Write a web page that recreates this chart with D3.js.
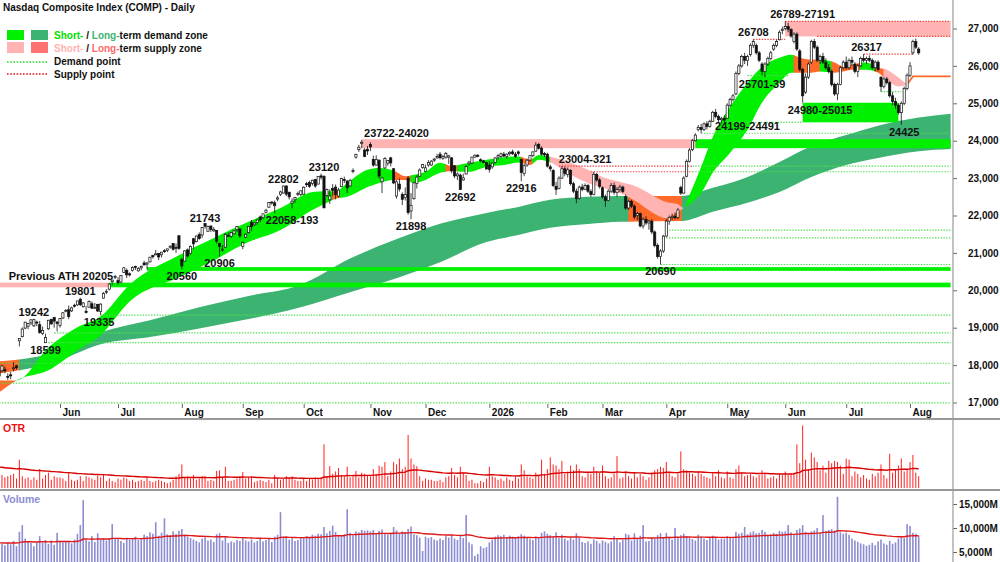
<!DOCTYPE html>
<html>
<head>
<meta charset="utf-8">
<title>Nasdaq Composite Index (COMP) - Daily</title>
<script src="https://cdn.jsdelivr.net/npm/d3@7/dist/d3.min.js"></script>
<style>
  body { margin: 0; background: #fff; }
  svg { display: block; font-family: "Liberation Sans", Arial, sans-serif; font-weight: bold; }
</style>
</head>
<body>
<svg id="chart" width="1000" height="562"></svg>
<script>
// ---- calendar ----
var START_DATE = "2025-05-01";
var holidays = ["2025-05-26", "2025-06-19", "2025-07-04", "2025-09-01", "2025-11-27", "2025-12-25",
                "2026-01-01", "2026-01-19", "2026-02-16", "2026-04-03", "2026-05-25", "2026-06-19", "2026-07-03"];
var monthLabels = ["Jun", "Jul", "Aug", "Sep", "Oct", "Nov", "Dec", "2026", "Feb", "Mar", "Apr", "May", "Jun", "Jul", "Aug"];

// ---- daily candles (May 2025 - Aug 2026) ----
var opens = [
  17850,17850,17880,17700,17740,17900,17980,18650,18760,18990,19040,19130,19050,19150,19080,18850,18600,18970,19220,19270,19150,
  19060,19260,19430,19480,19450,19600,19610,19760,19560,19440,19550,19640,19530,19620,19430,19790,19970,20030,20230,20340,
  20260,20220,20480,20530,20440,20530,20640,20520,20600,20730,20700,20760,20930,20960,20980,20950,21060,21070,21160,21250,21150,21460,
  20820,20780,21080,20980,21380,21300,21490,21480,21790,21580,21720,21590,21600,21250,21100,21150,21470,21440,21510,21620,21640,
  21170,21420,21540,21820,21750,21810,21960,21940,22080,22220,22360,22340,22440,22560,22600,22790,22620,22330,22420,22590,22560,
  22570,22850,22880,22860,22960,22840,23060,23040,22540,22420,22720,22760,22520,22770,22960,22920,22790,23180,23560,23760,23940,23750,23770,
  23900,23500,23350,23480,22900,23270,23400,23540,23250,22520,22840,22560,22480,23000,22120,22450,22860,23050,23280,
  23180,23350,23350,23480,23540,23640,23530,23560,23560,23540,23330,23060,23080,22950,23110,23380,23400,23560,23610,23490,23460,23420,
  23350,23300,23420,23560,23580,23640,23580,23650,23700,23640,23700,23500,23120,23350,23480,23600,23720,23900,23800,23660,
  23640,23300,23200,22780,22720,23000,23250,23100,23200,22850,22650,22460,22760,22700,22800,22640,22560,23100,22950,
  22740,22500,22400,22650,22800,22620,22700,22760,22500,22200,22380,22250,22000,22050,21720,21900,21800,21850,21560,21200,20900,21050,
  21450,21850,21950,21980,21950,22750,22600,23050,23450,23760,24000,24300,24350,24300,24450,24380,24520,24760,24650,24560,24600,
  24600,24950,25100,25250,25800,26000,26250,26150,26300,26550,26550,26350,26050,25850,26050,26200,26450,26550,26700,26950,
  27000,27050,26980,26650,26850,26400,25900,25300,25700,26100,26650,26500,26150,26250,26100,25950,25850,25500,25250,25500,25950,
  26100,25950,26150,26050,25850,26000,26200,26150,26200,26150,25950,26100,25700,25450,25650,25550,25200,25050,24950,24750,25000,25400,
  25750,26350,26650,26450
];
var highs = [
  17930,18010,17960,17780,17820,18080,18010,18720,19010,19160,19130,19220,19242,19190,19180,19030,18840,19210,19240,19290,19180,
  19250,19420,19500,19590,19560,19640,19720,19801,19680,19580,19730,19700,19660,19640,19650,19950,20030,20190,20280,20410,
  20350,20400,20620,20580,20480,20640,20660,20620,20660,20790,20760,20890,20950,21080,21000,21030,21100,21110,21200,21260,21250,21460,
  20870,21070,21120,21200,21400,21470,21550,21690,21743,21730,21730,21690,21610,21270,21210,21530,21550,21560,21610,21720,21660,
  21300,21520,21710,21880,21820,21890,22000,22050,22180,22360,22380,22400,22530,22660,22800,22802,22640,22460,22500,22640,22670,
  22780,22900,22930,22960,22980,23050,23120,23080,22720,22700,22840,22830,22740,23010,23040,22950,22980,23260,23650,23890,24020,23800,23860,
  23960,23600,23610,23500,23020,23560,23480,23570,23270,22950,22990,22620,22750,23050,22600,22900,23080,23260,23370,
  23360,23480,23480,23540,23650,23700,23620,23700,23620,23560,23350,23150,23120,23120,23350,23460,23570,23630,23640,23530,23490,23440,
  23450,23420,23560,23640,23680,23700,23660,23720,23760,23700,23740,23520,23380,23520,23620,23720,23960,23940,23850,23700,
  23680,23360,23240,22900,23050,23321,23310,23280,23240,22900,22720,22800,22850,22860,22850,22700,23170,23140,23000,
  22780,22560,22700,22870,22880,22760,22820,22800,22560,22420,22420,22300,22100,22080,21950,21980,21880,21900,21600,21260,21100,21480,
  21900,22000,22050,22080,22200,22800,23050,23500,23800,24050,24200,24420,24450,24491,24520,24560,24800,24850,24700,24640,24680,
  25000,25150,25250,25850,26050,26300,26350,26300,26600,26708,26600,26400,26100,26100,26250,26400,26600,26700,26950,27050,
  27191,27150,27000,26900,26900,26450,25950,25800,26100,26700,26720,26550,26300,26350,26200,26050,25900,25550,25550,26000,26150,
  26250,26200,26250,26100,26050,26250,26317,26250,26280,26200,26150,26150,25720,25700,25700,25600,25300,25150,25000,25050,25450,25800,
  26100,26700,26730,26500
];
var lows = [
  17650,17800,17780,17600,17620,17830,17880,18500,18740,18960,18960,19070,19020,19040,18840,18800,18599,18940,19080,19000,18900,
  19000,19230,19410,19230,19420,19540,19580,19580,19540,19380,19540,19500,19500,19420,19335,19780,19900,20000,20140,20300,
  20150,20200,20460,20330,20370,20500,20540,20500,20530,20670,20560,20740,20850,20950,20810,20880,21000,21020,21110,21060,21000,21080,
  20560,20770,20870,20950,21100,21280,21350,21400,21650,21560,21560,21560,21250,20906,21030,21140,21440,21400,21490,21560,21400,
  21100,21400,21520,21580,21720,21750,21820,21900,22060,22210,22290,22058,22380,22520,22590,22520,22430,22193,22340,22520,22520,
  22560,22760,22740,22800,22740,22830,22960,22200,22500,22310,22530,22430,22480,22760,22870,22600,22770,23130,23520,23700,23800,23560,23620,
  23720,23300,23330,22990,22600,23250,23330,23310,22840,22450,22640,22280,22400,22020,21898,22420,22720,23040,23250,
  23160,23300,23330,23430,23520,23500,23490,23520,23380,23130,23000,22950,22692,22930,23100,23340,23380,23550,23560,23420,23410,23240,
  23150,23250,23390,23500,23530,23560,23520,23600,23620,23540,23600,22916,23050,23300,23440,23560,23700,23760,23600,23560,
  23280,23180,22760,22550,22700,22980,23050,23020,22800,22600,22330,22420,22650,22680,22600,22500,22540,22900,22720,
  22450,22230,22380,22600,22560,22500,22620,22600,22150,22150,22200,21900,21880,21680,21650,21750,21620,21500,21150,20850,20690,21000,
  21420,21750,21880,21900,21900,22550,22580,23020,23420,23720,23980,24250,24199,24260,24300,24350,24500,24600,24480,24460,24500,
  24580,24900,25050,25220,25750,25950,26050,26000,26250,26480,26300,26100,25739,25701,26000,26150,26400,26500,26680,26850,
  26950,26900,26750,26600,26400,25850,25015,25250,25650,26050,26450,26100,26050,26050,25900,25800,25450,25200,25080,25480,25900,
  25900,25900,26000,25800,25700,25980,26100,26050,26100,25900,25850,25850,25310,25400,25500,25150,24950,24850,24700,24425,24950,25350,
  25700,26300,26450,26300
];
var closes = [
  17710,17978,17844,17690,17738,17928,17929,18708,18963,19147,19112,19211,19215,19143,18873,18926,18737,19199,19101,19175,19114,
  19243,19399,19461,19298,19530,19591,19715,19615,19662,19407,19701,19521,19546,19447,19631,19913,19974,20168,20273,20370,
  20203,20394,20601,20412,20418,20611,20631,20586,20641,20677,20730,20885,20896,20974,20892,21020,21057,21108,21179,21098,21130,21122,
  20650,21053,20916,21169,21243,21450,21385,21682,21713,21711,21623,21630,21315,21172,21100,21497,21449,21544,21590,21705,21456,
  21280,21498,21708,21700,21799,21879,21886,22043,22141,22349,22333,22261,22470,22631,22789,22573,22498,22384,22484,22591,22660,
  22755,22845,22780,22942,22789,23044,23024,22204,22695,22522,22671,22563,22680,22991,22954,22740,22942,23205,23637,23827,23958,23581,23725,
  23835,23349,23500,23054,23005,23528,23468,23406,22871,22901,22709,22433,22564,22078,22273,22872,23026,23215,23366,
  23276,23414,23454,23506,23578,23546,23576,23654,23594,23195,23057,23111,22693,23006,23307,23428,23562,23613,23593,23474,23420,23242,
  23230,23400,23540,23600,23650,23590,23640,23690,23650,23580,23660,23150,23330,23480,23600,23700,23880,23800,23640,23620,
  23320,23250,22800,22700,23000,23250,23120,23220,22850,22650,22450,22760,22700,22800,22650,22560,23100,22950,22780,
  22500,22400,22650,22800,22620,22700,22760,22640,22200,22380,22250,21960,22050,21720,21900,21800,21850,21560,21200,20900,21050,21450,
  21850,21950,21980,21940,22150,22600,23000,23450,23750,24000,24150,24350,24300,24450,24380,24520,24760,24650,24560,24600,24550,
  24950,25100,25200,25800,26000,26250,26150,26250,26550,26650,26350,26150,25850,26050,26200,26350,26550,26650,26900,26980,
  27050,26980,26800,26850,26450,25900,25200,25700,26050,26650,26500,26150,26250,26100,25950,25850,25500,25250,25500,25950,26100,
  25950,26150,26100,25850,26000,26200,26150,26200,26150,25950,26100,25900,25450,25650,25550,25200,25050,24950,24750,25000,25400,25750,
  26000,26650,26500,26350
];

// ---- OTR (%) and volume (millions of shares) ----
var otr = [
  1.3,1.1,0.9,1.0,1.1,1.2,0.8,2.4,1.0,0.8,0.9,0.7,0.9,0.7,1.6,0.8,1.1,1.3,0.7,1.0,0.9,
  0.9,0.8,0.6,1.35,0.7,0.6,0.7,1.0,0.6,1.0,0.9,0.8,0.7,1.05,0.9,1.1,0.6,0.8,0.6,0.5,
  0.8,0.7,0.9,0.8,0.6,0.7,0.5,0.6,0.7,0.6,0.9,0.6,0.5,0.6,0.7,0.6,0.5,0.4,0.5,0.7,1.0,1.2,
  2.0,0.9,1.0,0.8,1.1,0.7,0.8,1.0,1.0,0.6,0.7,0.6,1.45,1.5,0.9,1.8,0.6,0.6,0.7,0.8,1.0,
  1.35,0.8,0.9,1.0,0.5,0.6,0.7,0.6,0.5,0.7,0.4,1.1,0.8,0.7,0.8,1.0,0.8,1.0,0.7,0.6,0.6,
  0.8,0.6,0.8,0.7,0.9,0.8,0.9,3.7,1.0,1.85,1.2,1.4,1.7,1.1,1.0,1.8,0.9,1.0,1.45,0.9,1.3,1.2,1.1,
  1.0,1.6,1.2,1.9,1.8,2.2,1.0,1.4,2.2,2.0,2.5,1.6,1.8,4.5,2.5,2.0,1.85,1.0,0.6,
  0.8,0.7,0.7,0.6,0.6,0.7,0.5,0.9,1.0,1.7,1.1,0.9,1.8,1.3,1.1,0.6,0.7,0.4,0.4,0.6,0.5,0.8,
  1.8,1.0,0.9,0.7,0.8,0.6,0.9,0.7,0.6,1.0,0.8,2.0,1.5,1.0,0.9,0.8,1.3,1.0,2.4,1.2,
  1.6,2.6,2.0,1.9,1.6,2.3,1.2,1.4,1.9,1.5,2.0,1.6,1.0,0.9,1.3,1.2,1.8,1.4,1.3,
  1.9,1.0,0.8,0.9,1.2,2.7,0.8,0.9,1.4,1.0,0.8,1.3,0.9,1.2,1.0,0.7,0.9,1.3,1.5,1.6,1.8,1.7,
  2.2,1.3,1.0,0.9,1.2,3.1,1.6,1.5,1.3,1.2,1.0,1.4,1.2,1.0,0.9,0.8,1.3,1.0,1.5,0.9,0.8,
  1.4,0.9,0.8,1.6,1.9,1.3,1.0,1.1,1.2,1.0,0.9,1.1,1.5,1.3,0.8,0.9,1.0,0.8,1.2,1.1,
  1.4,1.1,1.2,1.3,3.7,2.1,5.3,2.4,1.6,3.0,2.6,2.2,1.5,1.9,1.3,2.3,2.1,2.3,2.2,1.9,1.2,
  2.5,2.4,1.0,1.4,1.2,0.9,1.1,0.8,0.7,1.2,1.0,1.3,2.0,1.1,0.8,2.9,1.3,1.6,1.9,2.5,1.4,1.6,
  2.2,2.8,1.3,1.0
];
var volume = [
  7100,6800,6400,6900,6600,7300,6200,9200,10600,7800,7300,6900,6200,7000,8300,6900,7500,6700,7400,6500,9000,
  7200,7000,7300,7100,6800,7600,8800,10600,15800,7500,7200,8300,7100,8900,7600,7900,7400,7800,10800,7700,
  7800,7300,6900,8000,7600,7900,8200,7500,7800,8600,8300,9100,8800,11200,8400,9000,12000,8700,8500,9300,8800,9400,
  9800,8600,8200,7900,7600,7300,7000,7800,8100,7400,7600,7100,8700,8900,7400,8200,6900,7200,7000,7500,7300,
  8000,7400,7200,7600,7000,7300,7800,7200,7500,7700,7100,8200,8600,13300,8100,8300,7600,7900,7300,7500,8000,
  8100,8300,8000,8600,8400,8800,8700,10200,8900,9400,10500,9200,8600,8300,8700,13900,9000,8500,9300,9100,9600,9400,9500,
  9300,9600,8900,9400,9700,8800,8600,9000,10200,9500,8900,9300,9100,9800,10300,8700,8500,8000,5200,
  8200,7900,8100,7600,7400,7800,7500,8300,8000,8600,7800,7500,8400,7900,12700,7000,6600,4200,4600,6200,5800,6000,
  7000,7600,8200,8500,8300,8600,8100,8400,8200,8000,8300,8700,8400,8000,7700,7500,8200,7900,9000,9300,
  8800,8500,8300,9100,7900,8600,7800,7400,8000,7600,8900,7900,7100,6900,7200,6700,7600,7300,6800,
  7400,7100,6800,7200,8300,7900,7000,7500,8800,8600,7400,8900,7800,8400,10600,7200,7300,8000,7700,8500,8900,8100,
  9000,8200,7600,10000,7900,8500,8800,8300,7900,7700,7400,8600,8200,7800,7500,7900,8400,8100,7600,7800,7700,
  8300,8000,7800,9200,8800,9000,10200,8700,9100,9300,8900,9000,9600,9200,8500,8700,9000,8800,9400,9200,
  9300,10600,9100,8700,9600,9900,10600,9200,8800,9300,9500,10000,8900,12700,9400,9600,9800,9500,16500,9100,8800,
  9000,8600,7800,7400,7100,6800,6600,6300,6500,6900,6400,7200,7600,6800,6500,7300,6700,7000,7800,8200,7900,10800,
  10400,9000,8800,8300
];

// ---- short-term band (edges read at knots, by trading-day index) ----
var shortIdx = [0,6,17,27,35,45,62,74,85,97,108,112,116,120,127,131,136,140,143,147,152,156,162,168,174,179,183,186,190,197,203,208,214,220,225,230,234,236,238,242,246,252,258,263,269,273,276,280,283,288,291,294,299,303,306,310,313];
var shortHi  = [17590,17590,18470,19010,19300,20150,20940,21400,21800,22200,22630,22650,22650,22870,23220,23270,23200,23050,23090,23170,23410,23330,23410,23490,23560,23580,23490,23620,23570,23410,23220,23030,22900,22760,22550,22360,22300,22200,22550,23300,24100,24910,25550,25980,26220,26300,26220,26170,26170,26090,25980,26040,26090,25950,25900,25690,25500];
var shortLo  = [17270,17590,17860,18400,18800,19700,20350,20800,21260,21610,22150,22300,22450,22500,22760,22870,22950,22950,22870,22950,23140,23180,23170,23300,23350,23420,23350,23490,23420,23090,22870,22740,22600,22360,22090,21930,22100,22200,22300,22600,23140,23680,24290,25020,25550,25820,25820,25820,25850,25820,25850,25900,25900,25820,25630,25450,25500];
var shortSegFrom  = [0, 6, 115, 117.5, 136, 142, 154, 158, 180, 184, 190, 236, 274, 283, 287, 297, 302, 305];
var shortSegColor = ["o","g","o","g","o","g","o","g","o","g","p","g","o","g","o","g","o","p"];
var projIdx = [313, 315, 328];
var projVal = [25500, 25720, 25720];

// ---- long-term band ----
var longIdx = [0,7,17,35,52,69,86,104,121,138,152,168,179,190,203,214,235,246,258,269,280,292,303,317,328];
var longHi  = [18100,18150,18290,18880,19200,19550,19850,20150,20850,21400,21780,22070,22230,22420,22500,22520,22520,22740,23030,23430,23850,24150,24400,24620,24720];
var longLo  = [17780,17860,18020,18560,18750,18980,19230,19550,19950,20350,20750,21290,21480,21670,21770,21830,21850,22100,22340,22630,23030,23350,23540,23720,23780];
var longSegFrom  = [0, 7, 217, 235.5];
var longSegColor = ["o","d","o","d"];

// ---- zones and points ----
var supplyZoneLo   = [20080, 23800, 26789];
var supplyZoneHi   = [20205, 24040, 27191];
var supplyZoneFrom = [0, 125, 271];
var supplyZoneTo   = [38, 240, 328];
var demandZoneLo   = [20080, 20520, 23800, 24491];
var demandZoneHi   = [20205, 20620, 24040, 25015];
var demandZoneFrom = [38, 51, 240, 277];
var demandZoneTo   = [328, 328, 328, 310];

var supplyLevel = [27191, 26789, 26708, 26317, 23321, 23170];
var supplyFrom  = [271, 282, 260, 298, 193, 204];
var supplyTo    = [328, 328, 271, 315, 239, 239];
var demandLevel = [23321, 23170, 24199, 24491, 25739, 25310, 21610, 21400, 20690, 19335, 18860, 18599, 18050, 17520, 16990];
var demandFrom  = [239, 239, 242, 251, 258, 304, 230, 229, 228, 35, 19, 16, 0, 0, 0];
var demandTo    = [328, 328, 328, 277, 272, 311, 328, 328, 328, 328, 328, 328, 328, 328, 328];

// ---- annotations ----
var labelText  = ["19242","18599","19801","19335","Previous ATH 20205","20560","21743","20906","22802","22058-193","23120","23722-24020","21898","22692","22916","23004-321","20690","24199-24491","26708","25701-39","26789-27191","24980-25015","26317","24425"];
var labelIdx   = [12,16,28,34.5,3.3,63,71,76,98,101,112,137,142,159,180,202,228,258,260,263,277,283,299,312];
var labelPrice = [19242,18599,19801,19335,20205,20560,21743,20906,22802,22058,23120,24020,21898,22692,22916,23321,20690,24199,26708,25701,27191,25015,26317,24425];
var labelSide  = ["a","b","a","b","a","b","a","b","a","b","a","a","b","b","b","a","b","a","a","b","a","b","a","b"];

var priceTicks  = [17000, 18000, 19000, 20000, 21000, 22000, 23000, 24000, 25000, 26000, 27000];
var volumeTicks = [5000, 10000, 15000];

// ---- layout ----
var AXIS_X = 953, PRICE_BOTTOM = 406;
var BAND_COLORS = {g: "#00f000", d: "#3cb371", o: "#ff6a2b", p: "#ffb3b3"};
var GREEN_ZONE = "#00f000", PINK_ZONE = "#ffb3b3";

var svg = d3.select("#chart");
var defs = svg.append("defs");

var x = d3.scaleLinear().domain([21, 314]).range([60, 910]);
var y = d3.scaleLinear().domain([17000, 27000]).range([402.5, 28.5]);
var yOtr = d3.scaleLinear().domain([0, 5]).range([488, 429]);
var yVol = d3.scaleLinear().domain([0, 15000]).range([576, 504]);

function tradingDays(start, n) {
  var out = [], d = new Date(start + "T12:00:00Z"), fmt = d3.utcFormat("%Y-%m-%d");
  while (out.length < n) {
    var wd = d.getUTCDay();
    if (wd > 0 && wd < 6 && holidays.indexOf(fmt(d)) < 0) out.push(new Date(d));
    d.setUTCDate(d.getUTCDate() + 1);
  }
  return out;
}

var N = closes.length;
var dates = tradingDays(START_DATE, N + 20);
var monthIdx = [];
for (var i = 1; i < dates.length && monthIdx.length < monthLabels.length; i++) {
  if (dates[i].getUTCMonth() !== dates[i - 1].getUTCMonth()) monthIdx.push(i);
}
var days = d3.range(N);

function ema(vals, n, seed) {
  var k = 2 / (n + 1), e = seed;
  return vals.map(function(v) { e = e + k * (v - e); return e; });
}

// clip regions
defs.append("clipPath").attr("id", "clip-price").append("rect")
    .attr("x", 0).attr("y", 0).attr("width", AXIS_X - 1).attr("height", PRICE_BOTTOM);
defs.append("clipPath").attr("id", "clip-otr").append("rect")
    .attr("x", 0).attr("y", 420).attr("width", AXIS_X - 1).attr("height", 69);
defs.append("clipPath").attr("id", "clip-vol").append("rect")
    .attr("x", 0).attr("y", 491).attr("width", AXIS_X - 1).attr("height", 71);

var price = svg.append("g").attr("clip-path", "url(#clip-price)");

function drawBand(parent, id, idx, hi, lo, segFrom, segColor) {
  var knots = idx.map(function(d, k) { return {i: d, hi: hi[k], lo: lo[k]}; });
  var lastIdx = idx[idx.length - 1];
  var area = d3.area()
      .x(function(d) { return x(d.i); })
      .y0(function(d) { return y(d.lo); })
      .y1(function(d) { return y(d.hi); })
      .curve(d3.curveMonotoneX);
  segFrom.forEach(function(s, k) {
    var e = k + 1 < segFrom.length ? segFrom[k + 1] : lastIdx;
    var cid = id + "-seg" + k;
    defs.append("clipPath").attr("id", cid).append("rect")
        .attr("x", x(s) - 0.4).attr("y", 0)
        .attr("width", x(e) - x(s) + 0.8).attr("height", PRICE_BOTTOM);
    parent.append("path")
        .datum(knots)
        .attr("d", area)
        .attr("fill", BAND_COLORS[segColor[k]])
        .attr("clip-path", "url(#" + cid + ")");
  });
}

// bands
drawBand(price, "long", longIdx, longHi, longLo, longSegFrom, longSegColor);
drawBand(price, "short", shortIdx, shortHi, shortLo, shortSegFrom, shortSegColor);

price.append("path")
    .datum(projIdx.map(function(d, k) { return {i: d, v: projVal[k]}; }))
    .attr("d", d3.line().x(function(d) { return x(d.i); }).y(function(d) { return y(d.v); }))
    .attr("fill", "none")
    .attr("stroke", BAND_COLORS.o)
    .attr("stroke-width", 1.8);

// zones
function drawZones(lo, hi, from, to, color) {
  price.append("g").selectAll("rect")
      .data(d3.range(lo.length)).enter().append("rect")
      .attr("x", function(k) { return x(from[k]); })
      .attr("width", function(k) { return x(to[k]) - x(from[k]); })
      .attr("y", function(k) { return y(hi[k]); })
      .attr("height", function(k) { return y(lo[k]) - y(hi[k]); })
      .attr("fill", color);
}
drawZones(supplyZoneLo, supplyZoneHi, supplyZoneFrom, supplyZoneTo, PINK_ZONE);
drawZones(demandZoneLo, demandZoneHi, demandZoneFrom, demandZoneTo, GREEN_ZONE);

// dotted points
function drawPoints(level, from, to, color) {
  price.append("g").selectAll("line")
      .data(d3.range(level.length)).enter().append("line")
      .attr("x1", function(k) { return x(from[k]); })
      .attr("x2", function(k) { return x(to[k]); })
      .attr("y1", function(k) { return y(level[k]); })
      .attr("y2", function(k) { return y(level[k]); })
      .attr("stroke", color)
      .attr("stroke-width", 1.2)
      .attr("stroke-dasharray", "1.4 1.4");
}
drawPoints(demandLevel, demandFrom, demandTo, "#4fe04f");
drawPoints(supplyLevel, supplyFrom, supplyTo, "#f03c3c");

// candles
var BODY_W = 2.2;
price.append("g").selectAll("line")
    .data(days).enter().append("line")
    .attr("x1", function(i) { return x(i); })
    .attr("x2", function(i) { return x(i); })
    .attr("y1", function(i) { return y(highs[i]); })
    .attr("y2", function(i) { return y(lows[i]); })
    .attr("stroke", "#111")
    .attr("stroke-width", 0.8);
price.append("g").selectAll("rect")
    .data(days).enter().append("rect")
    .attr("x", function(i) { return x(i) - BODY_W / 2; })
    .attr("width", BODY_W)
    .attr("y", function(i) { return y(Math.max(opens[i], closes[i])); })
    .attr("height", function(i) { return Math.max(1, Math.abs(y(opens[i]) - y(closes[i]))); })
    .attr("fill", function(i) { return closes[i] >= opens[i] ? "#fff" : "#111"; })
    .attr("stroke", "#111")
    .attr("stroke-width", 0.7);

// annotations
svg.append("g").selectAll("text")
    .data(d3.range(labelText.length)).enter().append("text")
    .attr("x", function(k) { return x(labelIdx[k]); })
    .attr("y", function(k) { return y(labelPrice[k]) + (labelSide[k] === "a" ? -3 : 11); })
    .attr("text-anchor", function(k) { return labelText[k].indexOf(" ") > 0 ? "start" : "middle"; })
    .style("font-size", "11px")
    .attr("fill", "#111")
    .text(function(k) { return labelText[k]; });

// price axis
var priceAxis = svg.append("g")
    .attr("transform", "translate(" + AXIS_X + ",0)")
    .call(d3.axisRight(y).tickValues(priceTicks).tickFormat(d3.format(",")).tickSize(4).tickPadding(11));
priceAxis.select(".domain").remove();
priceAxis.selectAll("line").attr("stroke", "#666");
priceAxis.selectAll("text").style("font-size", "10px").style("font-family", "Liberation Sans, Arial, sans-serif").style("font-weight", "bold").attr("fill", "#111");

// month axis
var monthAxis = svg.append("g")
    .attr("transform", "translate(0,404)")
    .call(d3.axisBottom(x).tickValues(monthIdx).tickFormat(function(d, k) { return monthLabels[k]; }).tickSize(4).tickPadding(1));
monthAxis.select(".domain").remove();
monthAxis.selectAll("line").attr("stroke", "#666");
monthAxis.selectAll("text").attr("text-anchor", "start").attr("x", 2)
    .style("font-size", "10px").style("font-family", "Liberation Sans, Arial, sans-serif").style("font-weight", "bold").attr("fill", "#111");

// OTR panel
var otrG = svg.append("g").attr("clip-path", "url(#clip-otr)");
otrG.selectAll("line")
    .data(days).enter().append("line")
    .attr("x1", function(i) { return x(i); })
    .attr("x2", function(i) { return x(i); })
    .attr("y1", yOtr(0))
    .attr("y2", function(i) { return yOtr(otr[i]); })
    .attr("stroke", "#ff2020")
    .attr("stroke-width", 1);
otrG.append("path")
    .datum(ema(otr, 50, 1.8))
    .attr("d", d3.line().x(function(d, i) { return x(i); }).y(function(d) { return yOtr(d); }))
    .attr("fill", "none").attr("stroke", "#d80000").attr("stroke-width", 1.4);

// volume panel
var volG = svg.append("g").attr("clip-path", "url(#clip-vol)");
volG.selectAll("rect")
    .data(days).enter().append("rect")
    .attr("x", function(i) { return x(i) - 0.8; })
    .attr("width", 1.6)
    .attr("y", function(i) { return yVol(volume[i]); })
    .attr("height", function(i) { return 562 - yVol(volume[i]); })
    .attr("fill", "#8c8cd2");
volG.append("path")
    .datum(ema(volume, 50, 6900))
    .attr("d", d3.line().x(function(d, i) { return x(i); }).y(function(d) { return yVol(d); }))
    .attr("fill", "none").attr("stroke", "#e01818").attr("stroke-width", 1.4);

var volAxis = svg.append("g")
    .attr("transform", "translate(" + AXIS_X + ",0)")
    .call(d3.axisRight(yVol).tickValues(volumeTicks).tickFormat(function(d) { return d3.format(",")(d) + "M"; }).tickSize(4).tickPadding(2));
volAxis.select(".domain").remove();
volAxis.selectAll("line").attr("stroke", "#666");
volAxis.selectAll("text").style("font-size", "10px").style("font-family", "Liberation Sans, Arial, sans-serif").style("font-weight", "bold").attr("fill", "#111");

// panel frame
svg.append("line").attr("x1", 0).attr("x2", 1000).attr("y1", 419).attr("y2", 419).attr("stroke", "#777").attr("stroke-width", 1.5);
svg.append("line").attr("x1", 0).attr("x2", 1000).attr("y1", 490).attr("y2", 490).attr("stroke", "#777").attr("stroke-width", 1.5);
svg.append("line").attr("x1", AXIS_X).attr("x2", AXIS_X).attr("y1", 0).attr("y2", 562).attr("stroke", "#999").attr("stroke-width", 1.2);

svg.append("text").attr("x", 3).attr("y", 432).style("font-size", "10.5px").attr("fill", "#ee1111").text("OTR");
svg.append("text").attr("x", 3).attr("y", 503).style("font-size", "10.5px").attr("fill", "#8c8cd2").text("Volume");

// title and legend
svg.append("text").attr("x", 3).attr("y", 11).style("font-size", "10px").attr("fill", "#111")
    .text("Nasdaq Composite Index (COMP) - Daily");

var legend = svg.append("g").style("font-size", "10px");
legend.append("rect").attr("x", 7).attr("y", 30).attr("width", 17).attr("height", 10).attr("fill", "#00f000");
legend.append("rect").attr("x", 31).attr("y", 30).attr("width", 17).attr("height", 10).attr("fill", "#3cb371");
legend.append("rect").attr("x", 7).attr("y", 42).attr("width", 17).attr("height", 11).attr("fill", "#ffb3b3");
legend.append("rect").attr("x", 31).attr("y", 42).attr("width", 17).attr("height", 11).attr("fill", "#ff7272");

var row1 = legend.append("text").attr("x", 54).attr("y", 39).attr("fill", "#111");
row1.append("tspan").attr("fill", "#00e000").text("Short-");
row1.append("tspan").text(" / ");
row1.append("tspan").attr("fill", "#3cb371").text("Long-");
row1.append("tspan").text("term demand zone");

var row2 = legend.append("text").attr("x", 54).attr("y", 52).attr("fill", "#111");
row2.append("tspan").attr("fill", "#ffb3b3").text("Short-");
row2.append("tspan").text(" / ");
row2.append("tspan").attr("fill", "#ff6a6a").text("Long-");
row2.append("tspan").text("term supply zone");

legend.append("line").attr("x1", 7).attr("x2", 47).attr("y1", 62).attr("y2", 62)
    .attr("stroke", "#22dd22").attr("stroke-width", 1.6).attr("stroke-dasharray", "1.6 1.6");
legend.append("text").attr("x", 54).attr("y", 65).attr("fill", "#111").text("Demand point");
legend.append("line").attr("x1", 7).attr("x2", 47).attr("y1", 74).attr("y2", 74)
    .attr("stroke", "#e01020").attr("stroke-width", 1.6).attr("stroke-dasharray", "1.6 1.6");
legend.append("text").attr("x", 54).attr("y", 78).attr("fill", "#111").text("Supply point");
</script>
</body>
</html>
